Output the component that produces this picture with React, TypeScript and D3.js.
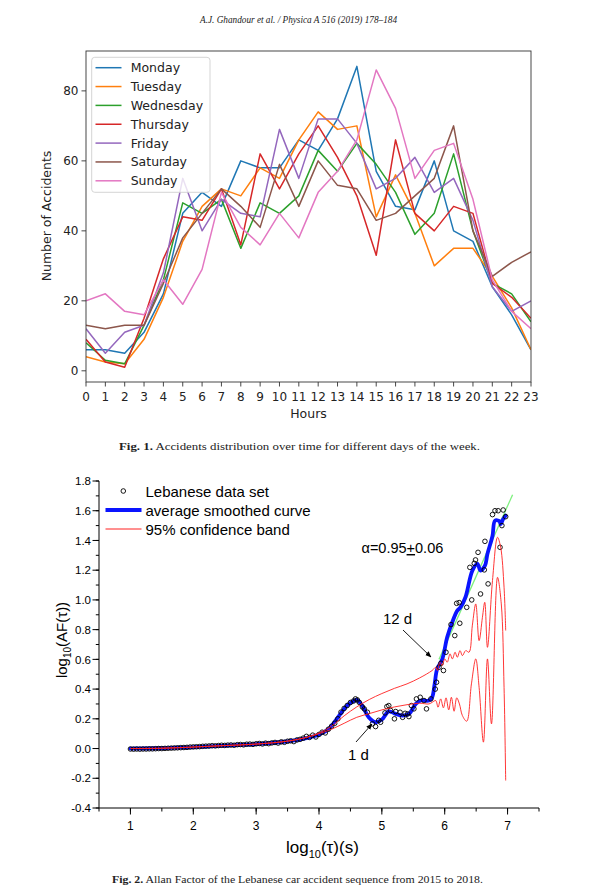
import React from "react";
import * as d3 from "d3";

// ---------- Figure 1 data ----------
const hours = d3.range(0, 24);
const dayNames = ["Monday", "Tuesday", "Wednesday", "Thursday", "Friday", "Saturday", "Sunday"];
const dayColors = ["#1f77b4", "#ff7f0e", "#2ca02c", "#d62728", "#9467bd", "#8c564b", "#e377c2"];
const monday = [6, 6, 5, 11, 22, 45, 51, 47, 60, 58, 58, 66, 63, 72, 87, 57, 47, 46, 60, 40, 37, 24, 16, 6];
const tuesday = [4, 2.5, 2, 9, 21, 37, 47, 52, 50, 58, 55, 66, 74, 69, 70, 44, 56, 45, 30, 35, 35, 27, 18, 6];
const wednesday = [8, 3, 2, 13, 26, 48, 45, 49, 35, 48, 45, 50, 63, 57, 65, 59, 51, 39, 45, 62, 40, 25, 22, 14];
const thursday = [9, 2.5, 1, 15, 32, 44, 43, 52, 36, 62, 52, 62, 70, 61, 50, 33, 66, 45, 40, 47, 45, 25, 21, 15];
const friday = [12, 5, 11, 13, 28, 55, 40, 49, 45, 44, 69, 55, 72, 72, 65, 52, 55, 61, 51, 55, 43, 24, 17, 20];
const saturday = [13, 12, 13, 13, 25, 38, 45, 52, 47, 41, 59, 47, 60, 53, 52, 43, 45, 50, 55, 70, 40, 27, 31, 34];
const sunday = [20, 22, 17, 16, 26, 19, 29, 51, 41, 36, 45, 38, 51, 57, 66, 86, 75, 55, 63, 65, 49, 26, 17, 12];
const daySeries = [monday, tuesday, wednesday, thursday, friday, saturday, sunday];
const yTicks1 = [0, 20, 40, 60, 80];

// ---------- Figure 2 data ----------
const afPoints: [number, number][] = [
  [1.0, -0.003], [1.05, -0.004], [1.1, -0.003], [1.15, -0.004], [1.2, -0.003], [1.25, -0.003], [1.3, -0.002],
  [1.35, -0.002], [1.4, -0.001], [1.45, 0.0], [1.5, 0.0], [1.55, 0.001], [1.6, 0.002], [1.65, 0.003],
  [1.7, 0.004], [1.75, 0.005], [1.8, 0.006], [1.85, 0.007], [1.9, 0.008], [1.95, 0.01], [2.0, 0.011],
  [2.05, 0.012], [2.1, 0.013], [2.15, 0.015], [2.2, 0.016], [2.25, 0.017], [2.3, 0.019], [2.35, 0.018],
  [2.4, 0.02], [2.45, 0.022], [2.5, 0.021], [2.55, 0.023], [2.6, 0.024], [2.65, 0.022], [2.7, 0.026],
  [2.75, 0.027], [2.8, 0.025], [2.85, 0.029], [2.9, 0.03], [2.95, 0.028], [3.0, 0.032], [3.05, 0.034],
  [3.1, 0.031], [3.15, 0.036], [3.2, 0.033], [3.25, 0.038], [3.3, 0.041], [3.35, 0.037], [3.4, 0.045],
  [3.45, 0.042], [3.5, 0.049], [3.55, 0.052], [3.6, 0.047], [3.65, 0.058], [3.7, 0.062], [3.75, 0.07],
  [3.8, 0.082], [3.85, 0.075], [3.9, 0.09], [3.95, 0.078], [4.0, 0.095], [4.05, 0.11], [4.1, 0.105],
  [4.15, 0.13], [4.2, 0.15], [4.25, 0.17], [4.3, 0.2], [4.35, 0.245], [4.4, 0.27], [4.45, 0.29],
  [4.5, 0.31], [4.55, 0.32], [4.58, 0.334], [4.61, 0.327], [4.64, 0.311], [4.69, 0.28], [4.72, 0.267],
  [4.77, 0.244], [4.85, 0.166], [4.9, 0.148], [4.95, 0.19], [4.98, 0.177], [5.05, 0.24], [5.08, 0.282],
  [5.11, 0.289], [5.14, 0.256], [5.2, 0.2], [5.22, 0.249], [5.29, 0.244], [5.33, 0.21], [5.37, 0.237],
  [5.41, 0.233], [5.43, 0.215], [5.47, 0.289], [5.51, 0.267], [5.55, 0.334], [5.61, 0.345], [5.67, 0.323],
  [5.71, 0.267], [5.78, 0.334], [5.85, 0.4], [5.87, 0.446], [5.91, 0.547], [5.94, 0.574], [5.98, 0.525],
  [6.02, 0.648], [6.1, 0.834], [6.16, 0.76], [6.19, 0.977], [6.23, 0.982], [6.24, 0.843], [6.35, 0.95],
  [6.4, 1.219], [6.43, 1.0], [6.47, 1.246], [6.49, 1.269], [6.53, 1.32], [6.57, 1.04], [6.63, 1.202],
  [6.64, 1.394], [6.69, 1.108], [6.76, 1.574], [6.8, 1.6], [6.85, 1.6], [6.88, 1.354], [6.91, 1.5],
  [6.93, 1.605], [6.97, 1.56],
];
const smoothCurve: [number, number][] = [
  [1.0, 0.0], [1.5, 0.002], [2.0, 0.01], [2.5, 0.02], [3.0, 0.03], [3.5, 0.048], [3.8, 0.07], [4.0, 0.095],
  [4.15, 0.13], [4.3, 0.21], [4.45, 0.29], [4.55, 0.32], [4.6, 0.327], [4.65, 0.31], [4.7, 0.28],
  [4.79, 0.21], [4.9, 0.177], [5.0, 0.195], [5.11, 0.25], [5.22, 0.233], [5.33, 0.222], [5.43, 0.233],
  [5.54, 0.3], [5.62, 0.323], [5.75, 0.323], [5.8, 0.345], [5.84, 0.435], [5.88, 0.536], [5.96, 0.6],
  [6.04, 0.75], [6.12, 0.85], [6.2, 0.928], [6.25, 0.95], [6.33, 1.018], [6.44, 1.197], [6.52, 1.242],
  [6.57, 1.197], [6.64, 1.23], [6.68, 1.31], [6.76, 1.43], [6.8, 1.533], [6.87, 1.53], [6.89, 1.51],
  [6.93, 1.545], [6.97, 1.567],
];
const bandUpper: [number, number][] = [
  [1.0, 0.0], [1.5, 0.002], [2.0, 0.01], [2.5, 0.02], [3.0, 0.03], [3.5, 0.05], [3.8, 0.075], [4.0, 0.105],
  [4.2, 0.15], [4.4, 0.22], [4.6, 0.28], [4.8, 0.33], [5.0, 0.37], [5.2, 0.405], [5.4, 0.435], [5.6, 0.475],
  [5.8, 0.525], [5.857, 0.547], [5.883, 0.525], [5.925, 0.581], [5.962, 0.558], [6.0, 0.603], [6.04, 0.581],
  [6.085, 0.637], [6.122, 0.603], [6.165, 0.648], [6.2, 0.614], [6.244, 0.659], [6.281, 0.625],
  [6.334, 0.659], [6.387, 0.648], [6.44, 0.83], [6.494, 0.973], [6.547, 0.726], [6.6, 0.883],
  [6.637, 0.984], [6.68, 0.681], [6.76, 1.13], [6.84, 1.421], [6.89, 1.354], [6.944, 1.085], [6.97, 0.794],
];
const bandLower: [number, number][] = [
  [1.0, 0.0], [1.5, 0.002], [2.0, 0.01], [2.5, 0.02], [3.0, 0.03], [3.5, 0.05], [3.8, 0.075], [4.0, 0.1],
  [4.2, 0.13], [4.4, 0.17], [4.6, 0.21], [4.8, 0.235], [5.0, 0.26], [5.2, 0.28], [5.4, 0.295], [5.6, 0.305],
  [5.75, 0.3], [5.804, 0.312], [5.857, 0.323], [5.894, 0.278], [5.936, 0.334], [5.979, 0.274],
  [6.021, 0.341], [6.064, 0.26], [6.106, 0.345], [6.149, 0.251], [6.191, 0.341], [6.234, 0.3],
  [6.281, 0.222], [6.35, 0.184], [6.425, 0.435], [6.494, 0.603], [6.547, 0.412], [6.616, 0.043],
  [6.68, 0.603], [6.744, 0.166], [6.84, 1.152], [6.9, 0.973], [6.944, 0.412], [6.97, -0.215],
];
const fitLine: [number, number][] = [[5.91, 0.6], [7.08, 1.708]];
const yTicks2 = [-0.4, -0.2, 0.0, 0.2, 0.4, 0.6, 0.8, 1.0, 1.2, 1.4, 1.6, 1.8];
const xTicks2 = [1, 2, 3, 4, 5, 6, 7];

export default function App() {
  // Figure 1 scales
  const x1 = d3.scaleLinear().domain([0, 23]).range([86, 531]);
  const y1 = d3.scaleLinear().domain([-3.2, 91.4]).range([382, 51]);
  const line1 = d3
    .line<number>()
    .x((_, i) => x1(hours[i]))
    .y((d) => y1(d));

  // Figure 2 scales
  const x2 = d3.scaleLinear().domain([0.5, 7.5]).range([99, 539]);
  const y2 = d3.scaleLinear().domain([-0.4, 1.8]).range([808, 481]);
  const line2 = d3
    .line<[number, number]>()
    .x((d) => x2(d[0]))
    .y((d) => y2(d[1]))
    .curve(d3.curveCatmullRom.alpha(0.5));
  const straight2 = d3
    .line<[number, number]>()
    .x((d) => x2(d[0]))
    .y((d) => y2(d[1]));

  const minorY2 = d3.range(-0.4, 1.81, 0.1);
  const minorX2 = d3.range(0.5, 7.51, 0.5);

  const f1 = "DejaVu Sans, sans-serif";
  const f2 = "Liberation Sans, Arial, sans-serif";
  const serif = "Liberation Serif, Times New Roman, serif";

  return (
    <svg
      width={597}
      height={892}
      viewBox="0 0 597 892"
      style={{ position: "absolute", left: 0, top: 0, background: "#fff" }}
    >
      <defs>
        <marker id="arr" viewBox="0 0 10 10" refX="9" refY="5" markerWidth="7" markerHeight="7" orient="auto">
          <path d="M0,1 L10,5 L0,9 z" fill="#000" />
        </marker>
        <clipPath id="clip1">
          <rect x={86} y={51} width={445} height={331} />
        </clipPath>
      </defs>
      <rect x={0} y={0} width={597} height={892} fill="#fff" />

      {/* Header */}
      <text x={298.5} y={23} textAnchor="middle" fontFamily={serif} fontStyle="italic" fontSize={10}
        textLength={197} lengthAdjust="spacingAndGlyphs" fill="#222">
        A.J. Ghandour et al. / Physica A 516 (2019) 178–184
      </text>

      {/* ---------- Figure 1 ---------- */}
      <g clipPath="url(#clip1)">
        {daySeries.map((s, i) => (
          <path key={dayNames[i]} d={line1(s) || ""} fill="none" stroke={dayColors[i]} strokeWidth={1.5}
            strokeLinejoin="round" />
        ))}
      </g>
      <rect x={86} y={51} width={445} height={331} fill="none" stroke="#333" strokeWidth={0.9} />
      {hours.map((h) => (
        <g key={"xt" + h}>
          <line x1={x1(h)} x2={x1(h)} y1={382} y2={386.5} stroke="#333" strokeWidth={0.9} />
          <text x={x1(h)} y={400.5} textAnchor="middle" fontFamily={f1} fontSize={12} fill="#222">
            {h}
          </text>
        </g>
      ))}
      {yTicks1.map((v) => (
        <g key={"yt" + v}>
          <line x1={81.5} x2={86} y1={y1(v)} y2={y1(v)} stroke="#333" strokeWidth={0.9} />
          <text x={78.5} y={y1(v) + 4.3} textAnchor="end" fontFamily={f1} fontSize={12} fill="#222">
            {v}
          </text>
        </g>
      ))}
      <text x={308.5} y={418} textAnchor="middle" fontFamily={f1} fontSize={12.5} fill="#222">
        Hours
      </text>
      <text transform="translate(51,216) rotate(-90)" textAnchor="middle" fontFamily={f1} fontSize={12.5} fill="#222">
        Number of Accidents
      </text>
      {/* Legend */}
      <rect x={91.7} y={57.3} width={118.3} height={135} rx={3} fill="#fff" fillOpacity={0.8} stroke="#d0d0d0"
        strokeWidth={0.9} />
      {dayNames.map((n, i) => {
        const yy = 67.7 + i * 18.85;
        return (
          <g key={"lg" + n}>
            <line x1={95.5} x2={121.5} y1={yy} y2={yy} stroke={dayColors[i]} strokeWidth={1.5} />
            <text x={130.7} y={yy + 4.4} fontFamily={f1} fontSize={12.5} fill="#222">
              {n}
            </text>
          </g>
        );
      })}

      {/* Caption 1 */}
      <text x={119} y={450} fontFamily={serif} fontSize={9.5} fill="#222" textLength={361} lengthAdjust="spacingAndGlyphs">
        <tspan fontWeight="bold">Fig. 1.</tspan>
        <tspan>{"  Accidents distribution over time for different days of the week."}</tspan>
      </text>

      {/* ---------- Figure 2 ---------- */}
      {/* axes */}
      <line x1={99} x2={99} y1={y2(-0.4)} y2={y2(1.8)} stroke="#000" strokeWidth={1} />
      <line x1={99} x2={539} y1={808} y2={808} stroke="#000" strokeWidth={1} />
      {minorY2.map((v, i) => (
        <line key={"my" + i} x1={95.8} x2={99} y1={y2(v)} y2={y2(v)} stroke="#000" strokeWidth={1} />
      ))}
      {yTicks2.map((v) => (
        <g key={"y2t" + v}>
          <line x1={92.5} x2={99} y1={y2(v)} y2={y2(v)} stroke="#000" strokeWidth={1} />
          <text x={91} y={y2(v) + 4.2} textAnchor="end" fontFamily={f2} fontSize={11.5} fill="#000">
            {d3.format(".1f")(v).replace("−", "-")}
          </text>
        </g>
      ))}
      {minorX2.map((v, i) => (
        <line key={"mx" + i} x1={x2(v)} x2={x2(v)} y1={808} y2={811.5} stroke="#000" strokeWidth={1} />
      ))}
      {xTicks2.map((v) => (
        <g key={"x2t" + v}>
          <line x1={x2(v)} x2={x2(v)} y1={808} y2={814.5} stroke="#000" strokeWidth={1} />
          <text x={x2(v)} y={829.5} textAnchor="middle" fontFamily={f2} fontSize={12} fill="#000">
            {v}
          </text>
        </g>
      ))}
      <text x={286} y={853} fontFamily={f2} fontSize={17} fill="#000">
        log<tspan fontSize={11} dy={5}>10</tspan>
        <tspan dy={-5}>(τ)(s)</tspan>
      </text>
      <text transform="translate(67,640) rotate(-90)" textAnchor="middle" fontFamily={f2} fontSize={15} fill="#000">
        log<tspan fontSize={10} dy={3.5}>10</tspan>
        <tspan dy={-3.5}>(AF(τ))</tspan>
      </text>

      {/* data */}
      <path d={straight2(fitLine) || ""} fill="none" stroke="#7ef07e" strokeWidth={1.3} />
      <path d={line2(smoothCurve) || ""} fill="none" stroke="#0a14ff" strokeWidth={3.8} strokeLinejoin="round"
        strokeLinecap="round" />
      {afPoints.map((p, i) => (
        <circle key={"pt" + i} cx={x2(p[0])} cy={y2(p[1])} r={2.3} fill="none" stroke="#000" strokeWidth={0.9} />
      ))}
      <path d={line2(bandUpper) || ""} fill="none" stroke="#ff2020" strokeWidth={0.9} />
      <path d={line2(bandLower) || ""} fill="none" stroke="#ff2020" strokeWidth={0.9} />

      {/* annotations */}
      <text x={361.5} y={553} fontFamily={f2} fontSize={14.5} fill="#000">
        α=0.95<tspan textDecoration="underline">+</tspan>0.06
      </text>
      <text x={383} y={623.5} fontFamily={f2} fontSize={15} fill="#000">
        12 d
      </text>
      <line x1={403} y1={630} x2={431} y2={657} stroke="#000" strokeWidth={0.9} markerEnd="url(#arr)" />
      <text x={348} y={760} fontFamily={f2} fontSize={15} fill="#000">
        1 d
      </text>
      <line x1={356} y1={742} x2={372} y2={724} stroke="#000" strokeWidth={0.9} markerEnd="url(#arr)" />

      {/* legend 2 */}
      <circle cx={123.3} cy={491} r={2.3} fill="none" stroke="#000" strokeWidth={0.9} />
      <text x={145.5} y={496.5} fontFamily={f2} fontSize={15} fill="#000">
        Lebanese data set
      </text>
      <line x1={105.5} x2={141.5} y1={510} y2={510} stroke="#0a14ff" strokeWidth={3.8} />
      <text x={145.5} y={515.5} fontFamily={f2} fontSize={15} fill="#000">
        average smoothed curve
      </text>
      <line x1={105.5} x2={141.5} y1={529} y2={529} stroke="#ff2020" strokeWidth={1} />
      <text x={145.5} y={534.5} fontFamily={f2} fontSize={15} fill="#000">
        95% confidence band
      </text>

      {/* Caption 2 */}
      <text x={112} y={883} fontFamily={serif} fontSize={9.5} fill="#222" textLength={371} lengthAdjust="spacingAndGlyphs">
        <tspan fontWeight="bold">Fig. 2.</tspan>
        <tspan>{"  Allan Factor of the Lebanese car accident sequence from 2015 to 2018."}</tspan>
      </text>
    </svg>
  );
}
